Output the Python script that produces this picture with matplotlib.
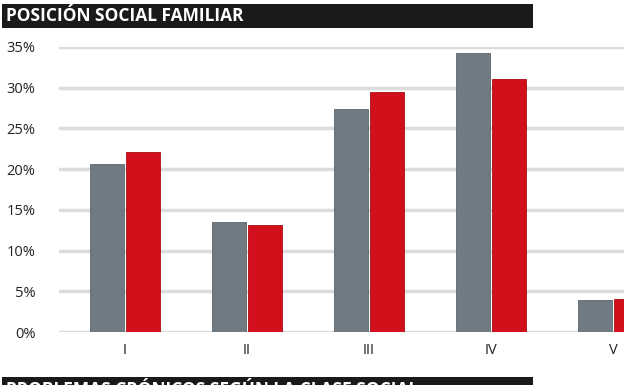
import matplotlib
matplotlib.use("Agg")
import matplotlib.pyplot as plt
import numpy as np
from matplotlib.patches import Rectangle

categories = ["I", "II", "III", "IV", "V"]
gray_values = [20.6, 13.5, 27.4, 34.3, 3.9]
red_values = [22.1, 13.2, 29.5, 31.1, 4.0]
yticks = [0, 5, 10, 15, 20, 25, 30, 35]
ytick_labels = ["0%", "5%", "10%", "15%", "20%", "25%", "30%", "35%"]
title = "POSICIÓN SOCIAL FAMILIAR"
next_title = "PROBLEMAS CRÓNICOS SEGÚN LA CLASE SOCIAL"

W, H = 624, 385
fig = plt.figure(figsize=(W / 100, H / 100), dpi=100)
fig.patch.set_facecolor("white")

# axes: left at 59px, right at 624px; 0% at y=332, 35% at y=47
ax = fig.add_axes([59 / W, (H - 332) / H, (W - 59) / W, (332 - 47) / H])
x = np.arange(len(categories))
bw = 0.279
off = 0.148
ax.bar(x - off, gray_values, bw, color="#6f7a82", edgecolor="#5c666d", linewidth=0.6, zorder=3)
ax.bar(x + off, red_values, bw, color="#d2101b", edgecolor="#a80d15", linewidth=0.6, zorder=3)

ax.set_ylim(0, 35)
ax.set_xlim(-0.54, 4.09)
ax.set_yticks(yticks)
ax.set_yticklabels(ytick_labels, fontsize=10.5, family="Open Sans", color="#222222")
ax.set_xticks(x)
ax.set_xticklabels(categories, fontsize=10.5, family="Open Sans", color="#222222")
ax.tick_params(axis="both", length=0)
ax.tick_params(axis="y", pad=17)
ax.tick_params(axis="x", pad=8)
ax.grid(axis="y", color="#dcdcdc", linewidth=2.5, zorder=0)
ax.set_axisbelow(True)
for s in ax.spines.values():
    s.set_visible(False)
ax.patch.set_alpha(0)

# title bar
fig.patches.append(Rectangle((2 / W, (H - 28) / H), (533 - 2) / W, 24 / H,
                             transform=fig.transFigure, facecolor="#1a1a1a", edgecolor="none", zorder=0))
fig.text(6 / W, (H - 16) / H, title, color="white", fontsize=12.5, fontweight="bold",
         family="Open Sans", va="center", ha="left")

# next section bar (cut off)
fig.patches.append(Rectangle((2 / W, 0), (533 - 2) / W, (H - 377) / H,
                             transform=fig.transFigure, facecolor="#1a1a1a", edgecolor="none", zorder=0))
fig.text(6 / W, (H - 381) / H, next_title, color="white", fontsize=12.5, fontweight="bold",
         family="Open Sans", va="top", ha="left")

fig.savefig("out.png", dpi=100)
